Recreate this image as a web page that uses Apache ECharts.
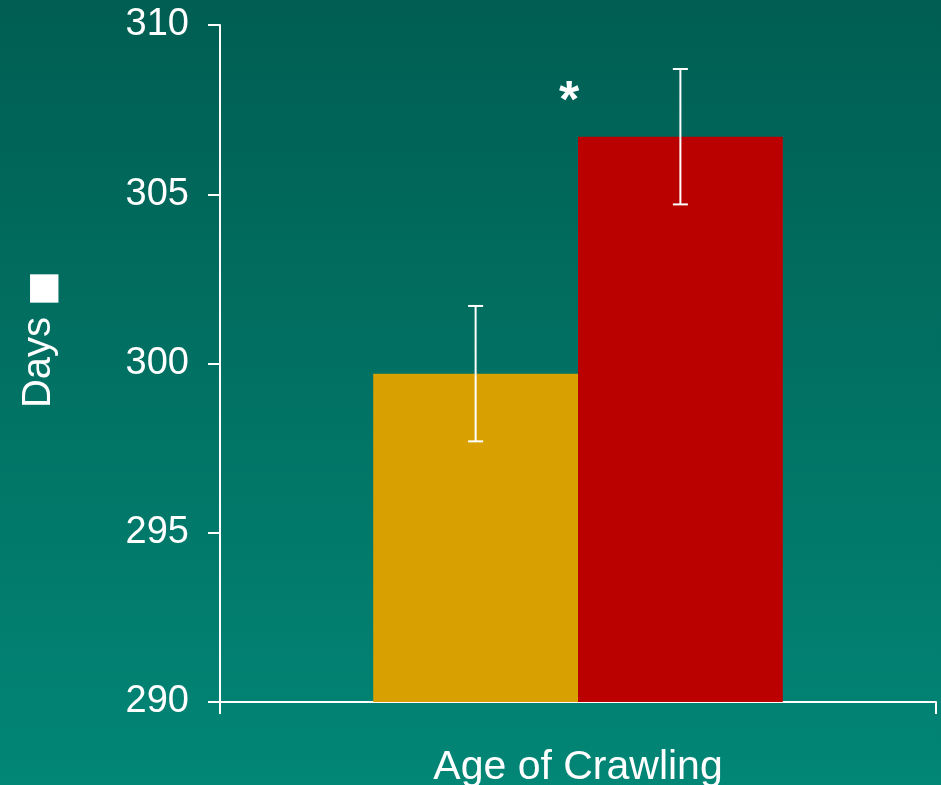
<!DOCTYPE html>
<html style="height: 100%">
<head>
<meta charset="utf-8">
<script src="https://cdn.jsdelivr.net/npm/echarts@6/dist/echarts.min.js"></script>
</head>
<body style="height: 100%; margin: 0">
<div id="container" style="width: 941px; height: 785px"></div>
<script type="text/javascript">
// data
var categories = ['Age of Crawling'];
var groupNames = ['Group A', 'Group B'];
var means = [299.7, 306.7];
var errors = [2.0, 2.0];
var sigMark = '*';
var sigValue = 307.7;

var barColors = ['#d8a000', '#bb0000'];
var BAR_FRAC = 0.286;

var dom = document.getElementById('container');
var myChart = echarts.init(dom);

var barSeries = means.map(function (v, i) {
    return {
        name: groupNames[i],
        type: 'bar',
        data: [v],
        barWidth: (BAR_FRAC * 100) + '%',
        barGap: '0%',
        itemStyle: { color: barColors[i] },
        z: 2
    };
});

var errSeries = {
    type: 'custom',
    data: means.map(function (v, i) { return [0, v - errors[i], v + errors[i], i]; }),
    z: 5,
    renderItem: function (params, api) {
        var band = api.size([1, 0])[0];
        var idx = api.value(3);
        var offset = (idx - 0.5) * band * BAR_FRAC;
        var lo = api.coord([api.value(0), api.value(1)]);
        var hi = api.coord([api.value(0), api.value(2)]);
        var x = lo[0] + offset;
        var cap = 7.5;
        var style = { stroke: '#ffffff', lineWidth: 2 };
        return {
            type: 'group',
            children: [
                { type: 'line', shape: { x1: x, y1: lo[1], x2: x, y2: hi[1] }, style: style },
                { type: 'line', shape: { x1: x - cap, y1: lo[1], x2: x + cap, y2: lo[1] }, style: style },
                { type: 'line', shape: { x1: x - cap, y1: hi[1], x2: x + cap, y2: hi[1] }, style: style }
            ]
        };
    }
};

var option = {
    backgroundColor: {
        type: 'linear', x: 0, y: 0, x2: 0, y2: 1,
        colorStops: [
            { offset: 0, color: '#005e52' },
            { offset: 1, color: '#028676' }
        ]
    },
    animation: false,
    grid: { left: 220, right: 5, top: 25, bottom: 83, outerBoundsMode: 'none', containLabel: false },
    xAxis: {
        type: 'category',
        data: categories,
        axisLine: { lineStyle: { color: '#ffffff', width: 2 } },
        axisTick: { show: true, length: 12, lineStyle: { color: '#ffffff', width: 2 } },
        axisLabel: {
            color: '#ffffff', fontSize: 41, margin: 45,
            fontFamily: 'Liberation Sans'
        }
    },
    yAxis: {
        type: 'value',
        min: 290,
        max: 310,
        interval: 5,
        name: '{d|Days} {s|■}',
        nameLocation: 'middle',
        nameGap: 151,
        nameTextStyle: {
            color: '#ffffff', fontSize: 40, fontFamily: 'Liberation Sans',
            padding: [0, 0, 0, 48],
            rich: {
                d: { fontSize: 40, fontFamily: 'Liberation Sans', color: '#ffffff', padding: [0, 0, 10, 0] },
                s: { fontSize: 37, fontFamily: 'DejaVu Sans', color: '#ffffff' }
            }
        },
        axisLine: { show: true, lineStyle: { color: '#ffffff', width: 2 } },
        axisTick: { show: true, length: 12, lineStyle: { color: '#ffffff', width: 2 } },
        splitLine: { show: false },
        axisLabel: {
            color: '#ffffff', fontSize: 38, margin: 31,
            fontFamily: 'Liberation Sans'
        }
    },
    series: barSeries.concat([errSeries])
};

myChart.setOption(option);

var p = myChart.convertToPixel({ gridIndex: 0 }, [categories[0], sigValue]);
myChart.setOption({
    graphic: [{
        type: 'text',
        x: p[0] - 9,
        y: p[1],
        style: {
            text: sigMark,
            fill: '#ffffff',
            font: 'bold 52px "Liberation Sans"',
            textAlign: 'center',
            textVerticalAlign: 'middle'
        }
    }]
});
</script>
</body>
</html>
